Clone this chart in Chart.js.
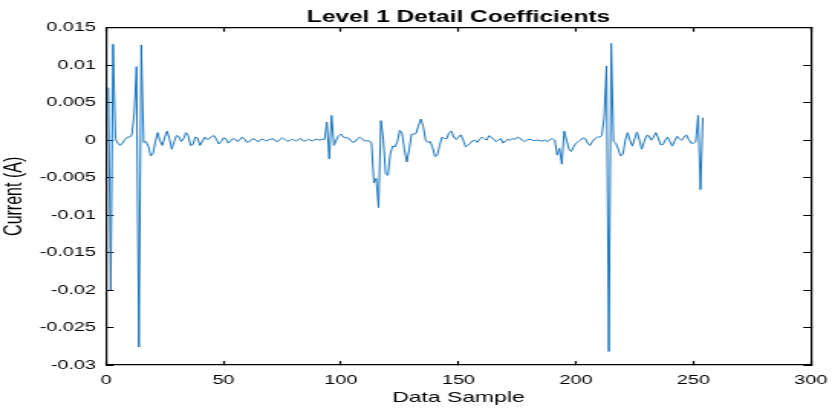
<!DOCTYPE html>
<html>
<head>
<meta charset="utf-8">
<script src="https://cdn.jsdelivr.net/npm/chart.js@4.4.1/dist/chart.umd.min.js"></script>
<style>
  html, body { margin: 0; padding: 0; background: #fff; }
</style>
</head>
<body>
<!-- the reference figure is stretched horizontally, so the canvas is drawn narrower and scaled up -->
<canvas id="chart" width="544" height="408" style="display:block;width:832px;height:408px"></canvas>
<script>
// Level 1 detail coefficients, sample 1..254
const current = [
  0.0070, -0.0200, 0.0128, 0.0002, -0.0004, -0.0007, -0.0004, 0.0001, 0.0004, 0.0004,
  0.0007, 0.0035, 0.0098, -0.0276, 0.0127, -0.0003, -0.0002, -0.0008, -0.0021, -0.0018,
  -0.0002, 0.0010, -0.0001, -0.0007, 0.0004, 0.0012, 0.0002, -0.0012, -0.0002, 0.0006,
  0.0005, -0.0002, 0.0002, 0.0010, 0.0006, -0.0007, -0.0006, 0.0004, 0.0003, -0.0007,
  -0.0002, 0.0004, 0.0001, 0.0002, 0.0005, 0.0006, 0.0001, -0.0005, -0.0002, 0.0003,
  0.0002, -0.0004, -0.0001, 0.0002, 0.0001, -0.0002, 0.0001, 0.0004, 0.0001, -0.0003,
  -0.0002, 0.0001, 0.0002, -0.0001, -0.0002, 0.0001, 0.0001, -0.0001, 0.0000, 0.0001,
  0.0002, -0.0001, -0.0002, 0.0001, 0.0003, 0.0001, -0.0001, -0.0001, 0.0001, 0.0000,
  -0.0001, 0.0001, 0.0002, -0.0001, -0.0001, 0.0001, 0.0000, -0.0001, 0.0001, 0.0001,
  0.0000, 0.0001, 0.0001, 0.0024, -0.0025, 0.0033, -0.0007, 0.0000, 0.0006, 0.0008,
  0.0004, 0.0003, 0.0003, 0.0000, -0.0003, -0.0002, 0.0002, 0.0004, 0.0002, -0.0001,
  -0.0001, -0.0001, -0.0004, -0.0057, -0.0051, -0.0090, 0.0026, 0.0001, -0.0045, -0.0047,
  -0.0018, -0.0008, -0.0009, -0.0002, 0.0013, 0.0009, -0.0013, -0.0029, -0.0013, 0.0008,
  0.0008, 0.0009, 0.0020, 0.0028, 0.0018, 0.0000, -0.0003, -0.0002, -0.0010, -0.0022,
  -0.0020, -0.0007, 0.0004, 0.0002, 0.0002, 0.0010, 0.0012, 0.0004, 0.0001, 0.0004,
  0.0007, 0.0000, -0.0009, -0.0007, -0.0004, -0.0001, 0.0000, -0.0003, 0.0001, 0.0004,
  0.0002, 0.0000, 0.0006, 0.0004, 0.0001, -0.0002, 0.0000, 0.0002, -0.0004, -0.0001,
  0.0001, 0.0000, 0.0002, 0.0001, 0.0004, 0.0003, 0.0000, -0.0002, 0.0000, 0.0001,
  0.0001, -0.0001, 0.0000, 0.0000, -0.0001, -0.0001, 0.0000, -0.0002, 0.0001, 0.0002,
  0.0000, -0.0020, -0.0011, -0.0032, 0.0012, 0.0000, -0.0012, -0.0015, -0.0009, -0.0004,
  -0.0002, 0.0000, 0.0003, 0.0002, -0.0004, -0.0007, -0.0002, 0.0002, 0.0004, 0.0004,
  0.0006, 0.0030, 0.0099, -0.0282, 0.0129, -0.0002, -0.0004, -0.0012, -0.0021, -0.0019,
  0.0000, 0.0010, 0.0000, -0.0008, 0.0002, 0.0011, 0.0000, -0.0012, -0.0002, 0.0006,
  0.0006, 0.0000, 0.0004, 0.0010, 0.0003, -0.0006, -0.0006, 0.0000, 0.0004, -0.0002,
  -0.0008, -0.0001, 0.0005, 0.0002, 0.0000, 0.0004, 0.0007, 0.0001, -0.0004, -0.0004,
  -0.0002, 0.0033, -0.0066, 0.0030
];

const xTicks = [0, 50, 100, 150, 200, 250, 300];
const xTickLabels = ['0', '50', '100', '150', '200', '250', '300'];
const yTicks = [-0.03, -0.025, -0.02, -0.015, -0.01, -0.005, 0, 0.005, 0.01, 0.015];
const yTickLabels = ['-0.03', '-0.025', '-0.02', '-0.015', '-0.01', '-0.005', '0', '0.005', '0.01', '0.015'];

const points = current.map((v, i) => ({ x: i + 1, y: v }));

Chart.defaults.font.family = '"Liberation Sans", Arial, sans-serif';
Chart.defaults.color = '#000';

const axisBorder = { display: true, color: '#000', width: 1.2 };

new Chart(document.getElementById('chart').getContext('2d'), {
  type: 'line',
  data: {
    datasets: [{
      data: points,
      borderColor: '#1a75bc',
      borderWidth: 1,
      pointRadius: 0,
      tension: 0,
      fill: false
    }]
  },
  options: {
    responsive: false,
    animation: false,
    layout: { padding: { left: 0, right: 13.8, top: 0, bottom: 0 } },
    plugins: {
      legend: { display: false },
      tooltip: { enabled: false },
      title: {
        display: true,
        text: 'Level 1 Detail Coefficients',
        fullSize: false,
        color: '#000',
        font: { size: 16, weight: 'bold' },
        padding: { top: 8, bottom: 0.5 }
      }
    },
    scales: {
      x: {
        type: 'linear',
        position: 'bottom',
        min: 0,
        max: 300,
        afterBuildTicks: s => { s.ticks = xTicks.map(v => ({ value: v })); },
        // fixed height; the label overflow at the ends is covered by the layout padding
        afterFit: s => { s.height = 43; s.paddingLeft = 0; s.paddingRight = 0; },
        ticks: {
          font: { size: 13 },
          padding: 12,
          maxRotation: 0,
          callback: (v, i) => xTickLabels[i]
        },
        grid: { drawOnChartArea: false, tickLength: -4, color: '#000', tickWidth: 1.2 },
        border: axisBorder,
        title: {
          display: true,
          text: 'Data Sample',
          font: { size: 15 },
          padding: { top: 0, bottom: 1 }
        }
      },
      x2: {
        type: 'linear',
        position: 'top',
        min: 0,
        max: 300,
        afterBuildTicks: s => { s.ticks = xTicks.map(v => ({ value: v })); },
        afterFit: s => { s.height = 0; s.paddingLeft = 0; s.paddingRight = 0; },
        ticks: { display: false },
        grid: { drawOnChartArea: false, tickLength: -4, color: '#000', tickWidth: 1.2 },
        border: axisBorder
      },
      y: {
        type: 'linear',
        position: 'left',
        min: -0.03,
        max: 0.015,
        afterBuildTicks: s => { s.ticks = yTicks.map(v => ({ value: v })); },
        afterFit: s => { s.width = 69.3; },
        ticks: {
          font: { size: 13 },
          padding: 11.5,
          callback: (v, i) => yTickLabels[i]
        },
        grid: { drawOnChartArea: false, tickLength: -5, color: '#000', tickWidth: 1 },
        border: axisBorder,
        title: {
          display: true,
          text: 'Current (A)',
          font: { size: 16 },
          padding: { top: 0, bottom: 0 }
        }
      },
      y2: {
        type: 'linear',
        position: 'right',
        min: -0.03,
        max: 0.015,
        afterBuildTicks: s => { s.ticks = yTicks.map(v => ({ value: v })); },
        afterFit: s => { s.width = 0; },
        ticks: { display: false },
        grid: { drawOnChartArea: false, tickLength: -5, color: '#000', tickWidth: 1 },
        border: axisBorder
      }
    }
  }
});
</script>
</body>
</html>
